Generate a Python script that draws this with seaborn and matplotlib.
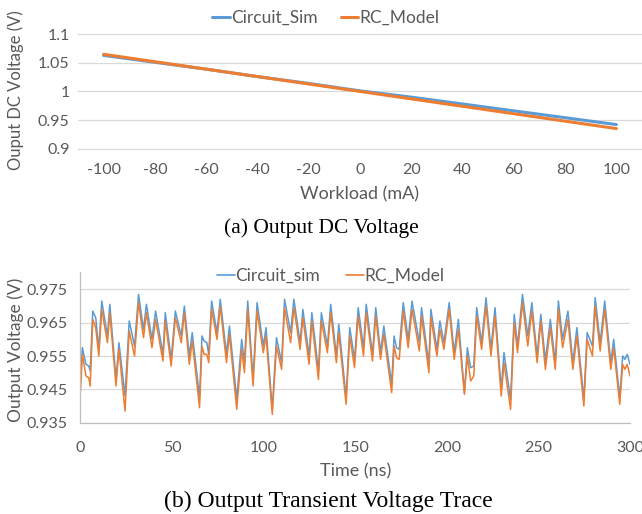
import numpy as np
import pandas as pd
import seaborn as sns
import matplotlib
matplotlib.use("Agg")
from matplotlib import pyplot as plt

"""
Data
"""
# (a) DC output voltage vs workload
workload = [-100, -80, -60, -40, -20, 0, 20, 40, 60, 80, 100]
dc_sim = [1.063, 1.051, 1.039, 1.026, 1.014, 1.001, 0.990, 0.978, 0.966, 0.954, 0.942]
dc_rc = [1.065, 1.052, 1.039, 1.026, 1.013, 1.000, 0.987, 0.974, 0.961, 0.948, 0.935]

# (b) transient trace, peaks and troughs
trans_time = [0, 1.0, 3.0, 4.5, 5.3, 6.7, 8.3, 10.0, 11.6, 14.7, 16.0, 19.4, 21.0, 24.3,
              26.6, 29.5, 31.7, 34.4, 36.0, 39.0, 41.0, 45.0, 46.3, 49.5, 51.8, 55.0,
              56.7, 59.4, 61.0, 65.0, 66.3, 67.5, 69.0, 70.0, 71.6, 74.5, 76.3, 79.7,
              81.3, 85.3, 88.0, 89.5, 91.3, 94.2, 96.4, 99.8, 101.3, 104.7, 107.0,
              109.8, 111.4, 114.7, 116.5, 119.9, 121.4, 124.8, 126.3, 129.9, 131.5,
              134.8, 136.6, 139.7, 141.0, 145.0, 147.0, 149.6, 151.6, 154.5, 156.0,
              159.4, 161.2, 163.8, 165.6, 169.9, 171.2, 172.5, 174.0, 176.2, 178.9,
              181.0, 185.0, 186.2, 190.2, 191.3, 194.6, 196.2, 198.4, 201.3, 204.0,
              206.3, 209.6, 211.2, 213.0, 214.7, 216.3, 219.0, 221.4, 224.1, 226.3,
              229.7, 231.2, 234.8, 236.8, 238.6, 241.3, 244.2, 246.4, 249.3, 251.3,
              253.8, 256.5, 259.2, 260.9, 263.2, 266.1, 268.8, 271.0, 274.8, 276.6,
              279.5, 281.0, 283.7, 286.2, 289.5, 291.1, 294.4, 296.0, 297.2, 298.5, 300.0]
trans_sim = [0.947, 0.9575, 0.9525, 0.952, 0.9505, 0.9685, 0.9665, 0.957, 0.9715, 0.961,
             0.9705, 0.948, 0.959, 0.943, 0.9655, 0.958, 0.9735, 0.963, 0.9705, 0.960,
             0.9685, 0.9555, 0.968, 0.954, 0.9685, 0.961, 0.970, 0.955, 0.962, 0.9425,
             0.961, 0.9595, 0.959, 0.9555, 0.9715, 0.962, 0.972, 0.9555, 0.964, 0.942,
             0.960, 0.953, 0.9715, 0.948, 0.971, 0.958, 0.9635, 0.939, 0.9605, 0.953,
             0.972, 0.962, 0.972, 0.959, 0.969, 0.955, 0.968, 0.9505, 0.968, 0.958,
             0.9705, 0.955, 0.9645, 0.9425, 0.9635, 0.954, 0.9695, 0.9575, 0.9705,
             0.9555, 0.9695, 0.956, 0.964, 0.9465, 0.961, 0.9575, 0.957, 0.971, 0.960,
             0.9715, 0.959, 0.9695, 0.9525, 0.969, 0.957, 0.9655, 0.959, 0.971, 0.956,
             0.966, 0.944, 0.9575, 0.9515, 0.952, 0.9695, 0.959, 0.9725, 0.957, 0.9695,
             0.945, 0.956, 0.942, 0.9675, 0.958, 0.9735, 0.961, 0.971, 0.955, 0.9675,
             0.9535, 0.966, 0.953, 0.9715, 0.960, 0.9685, 0.953, 0.9635, 0.942, 0.962,
             0.958, 0.9725, 0.959, 0.9715, 0.953, 0.960, 0.9425, 0.955, 0.954, 0.9555, 0.9525]
trans_rc = [0.9445, 0.9555, 0.949, 0.9485, 0.946, 0.966, 0.9635, 0.955, 0.969, 0.959,
            0.968, 0.946, 0.957, 0.9385, 0.9625, 0.955, 0.971, 0.9605, 0.968, 0.9575,
            0.966, 0.9535, 0.9655, 0.952, 0.9665, 0.959, 0.968, 0.9525, 0.9595, 0.9395,
            0.958, 0.9555, 0.9555, 0.953, 0.969, 0.960, 0.970, 0.953, 0.9615, 0.939,
            0.957, 0.950, 0.969, 0.946, 0.9685, 0.956, 0.961, 0.9375, 0.958, 0.951,
            0.9695, 0.959, 0.9695, 0.957, 0.9665, 0.9525, 0.9655, 0.948, 0.9655, 0.956,
            0.968, 0.953, 0.962, 0.9405, 0.961, 0.9515, 0.967, 0.955, 0.968,
            0.9535, 0.967, 0.954, 0.9615, 0.944, 0.958, 0.9545, 0.954, 0.9685, 0.9575,
            0.969, 0.9565, 0.967, 0.950, 0.9665, 0.955, 0.963, 0.957, 0.969, 0.954,
            0.963, 0.9435, 0.955, 0.9475, 0.949, 0.967, 0.957, 0.970, 0.955, 0.967,
            0.943, 0.953, 0.939, 0.965, 0.956, 0.971, 0.958, 0.9685, 0.953, 0.9655,
            0.951, 0.9635, 0.951, 0.969, 0.9575, 0.966, 0.951, 0.961, 0.940, 0.960,
            0.955, 0.970, 0.9565, 0.969, 0.951, 0.9575, 0.9405, 0.9525, 0.951, 0.9525, 0.949]

BLUE = '#5B9BD5'
ORANGE = '#ED7D31'
GRID = '#D9D9D9'
TXT = '#595959'

sns.set_theme(style='white')
plt.rcParams['font.family'] = ['Lato', 'DejaVu Sans']

W, H = 642, 514
fig = plt.figure(figsize=(W / 100, H / 100), dpi=100)

"""
(a) Output DC voltage
"""
ax1 = fig.add_axes([78 / W, 1 - 160 / H, (W - 78) / W, 125.7 / H])
dc = pd.DataFrame({'workload': workload * 2,
                   'v': dc_sim + dc_rc,
                   'src': ['Circuit_Sim'] * len(workload) + ['RC_Model'] * len(workload)})
sns.lineplot(data=dc, x='workload', y='v', hue='src', palette=[BLUE, ORANGE],
             linewidth=2.2, ax=ax1, legend=False)
ax1.set_xlim(-110, 110)
ax1.set_ylim(0.88, 1.1)
ax1.set_yticks([0.9, 0.95, 1.0, 1.05, 1.1])
ax1.set_yticklabels(['0.9', '0.95', '1', '1.05', '1.1'])
ax1.set_xticks(workload)
ax1.set_xticklabels([str(w) for w in workload])
ax1.grid(axis='y', color=GRID, linewidth=0.9)
ax1.set_axisbelow(True)
for s in ax1.spines.values():
    s.set_visible(False)
ax1.tick_params(axis='both', length=0, labelsize=11.5, labelcolor=TXT)
ax1.tick_params(axis='x', pad=2)
ax1.tick_params(axis='y', pad=6)
ax1.set_xlabel('Workload (mA)', fontsize=13, color=TXT, labelpad=7)
ax1.set_ylabel('Ouput DC Voltage (V)', fontsize=12, color=TXT)
ax1.yaxis.set_label_coords(-54 / (W - 78), 0.5 + 7 / 125.7)
l1, = ax1.plot([], [], color=BLUE, lw=2.2, label='Circuit_Sim')
l2, = ax1.plot([], [], color=ORANGE, lw=2.2, label='RC_Model')
fig.legend(handles=[l1, l2], loc='center', bbox_to_anchor=(326 / W, 1 - 18 / H),
           ncol=2, frameon=False, fontsize=12.5, labelcolor=TXT, handlelength=1.0,
           handletextpad=0.1, columnspacing=1.3)
fig.text(321 / W, 1 - 228 / H, '(a) Output DC Voltage', ha='center', va='center',
         fontsize=15.5, family='Liberation Serif', color='black')

"""
(b) Transient voltage trace
"""
ax2 = fig.add_axes([80.5 / W, 1 - 422.7 / H, 549.5 / W, 150.7 / H])
tr = pd.DataFrame({'t': trans_time * 2,
                   'v': trans_sim + trans_rc,
                   'src': ['Circuit_sim'] * len(trans_time) + ['RC_Model'] * len(trans_time)})
sns.lineplot(data=tr, x='t', y='v', hue='src', palette=[BLUE, ORANGE],
             linewidth=1.1, ax=ax2, legend=False, sort=False)
ax2.set_xlim(0, 300)
ax2.set_ylim(0.935, 0.9802)
ax2.set_yticks([0.935, 0.945, 0.955, 0.965, 0.975])
ax2.set_yticklabels(['0.935', '0.945', '0.955', '0.965', '0.975'])
ax2.set_xticks([0, 50, 100, 150, 200, 250, 300])
ax2.grid(axis='y', color=GRID, linewidth=0.9)
ax2.set_axisbelow(True)
for k in ['top', 'right']:
    ax2.spines[k].set_visible(False)
for k in ['left', 'bottom']:
    ax2.spines[k].set_color('#BFBFBF')
    ax2.spines[k].set_linewidth(0.9)
ax2.tick_params(axis='both', length=0, labelsize=11.5, labelcolor=TXT)
ax2.tick_params(axis='x', pad=13)
ax2.tick_params(axis='y', pad=9)
ax2.set_xlabel('Time (ns)', fontsize=13, color=TXT, labelpad=6)
ax2.set_ylabel('Output Voltage (V)', fontsize=12.5, color=TXT)
ax2.yaxis.set_label_coords(-56 / 549.5, 0.5 - 3 / 150.7)
l3, = ax2.plot([], [], color=BLUE, lw=1.2, label='Circuit_sim')
l4, = ax2.plot([], [], color=ORANGE, lw=1.2, label='RC_Model')
fig.legend(handles=[l3, l4], loc='center', bbox_to_anchor=(331 / W, 1 - 276 / H),
           ncol=2, frameon=False, fontsize=12.5, labelcolor=TXT, handlelength=1.0,
           handletextpad=0.05, columnspacing=1.5)
fig.text(328 / W, 1 - 501 / H, '(b) Output Transient Voltage Trace', ha='center',
         va='center', fontsize=17, family='Liberation Serif', color='black')

fig.savefig('out.png', dpi=100)
